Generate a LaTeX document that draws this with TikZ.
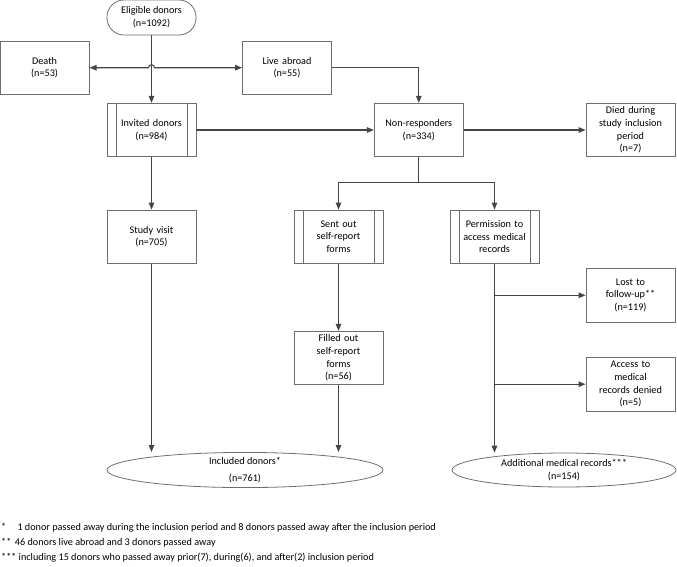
\documentclass[tikz,border=0pt]{standalone}
\usepackage{fontspec}
\setmainfont{Carlito}
\usetikzlibrary{arrows.meta,shapes.geometric,calc}
\definecolor{lineg}{HTML}{454545}
\definecolor{boxg}{HTML}{6E6E6E}

\begin{document}
\begin{tikzpicture}[x=1pt,y=1pt,
    font=\fontsize{10.2}{12.7}\selectfont,
    box/.style={draw=boxg,line width=0.8pt,minimum width=89pt,minimum height=53.5pt,
        inner sep=2pt,align=center,text width=85pt},
    proc/.style={box,path picture={
        \draw[boxg,line width=0.8pt] ([xshift=9pt]path picture bounding box.north west) -- ([xshift=9pt]path picture bounding box.south west);
        \draw[boxg,line width=0.8pt] ([xshift=-9pt]path picture bounding box.north east) -- ([xshift=-9pt]path picture bounding box.south east);}},
    term/.style={draw=boxg,line width=0.8pt,ellipse,inner sep=0pt,align=center},
    arr/.style={draw=lineg,line width=1.1pt,-{Triangle[length=7pt,width=5.5pt]}},
    conn/.style={draw=lineg,line width=1.1pt}]
    \useasboundingbox (0,0) rectangle (677,-566);

    % Top of the flow
    \node[draw=boxg,line width=0.8pt,rounded corners=17pt,minimum width=89pt,minimum height=35pt,
        align=center,inner sep=1pt] (elig) at (151.5,-17.5) {Eligible donors\\(n=1092)};
    \node[box] (death) at (44.6,-67.7) {Death\\(n=53)};
    \node[box] (live) at (287,-67.7) {Live abroad\\(n=55)};
    \node[proc] (inv) at (151.5,-130) {Invited donors\\(n=984)};
    \node[box] (nonr) at (418.8,-130) {Non-responders\\(n=334)};
    \node[box] (died) at (630.5,-130) {Died during\\study inclusion\\period\\(n=7)};

    % Second level
    \node[box] (study) at (151.5,-236.7) {Study visit\\(n=705)};
    \node[proc] (sent) at (338.5,-236.7) {Sent out\\self-report\\forms};
    \node[proc] (perm) at (494.5,-236.7) {Permission to\\access medical\\records};
    \node[box] (lost) at (630.5,-295.3) {Lost to\\follow-up**\\(n=119)};
    \node[box] (filled) at (338.5,-358) {Filled out\\self-report\\forms\\(n=56)};
    \node[box] (access) at (630.5,-384.2) {Access to\\medical\\records denied\\(n=5)};

    % Outcomes
    \node[term,minimum width=276pt,minimum height=34pt] (incl) at (245,-470) {Included donors*\\[3.5pt](n=761)};
    \node[term,minimum width=224pt,minimum height=34pt] (addl) at (564,-470) {Additional medical records***\\(n=154)};

    % Connectors
    \coordinate (hop) at (elig |- death);
    \draw[arr] (elig) -- (inv);
    \draw[arr,{Triangle[length=7pt,width=5.5pt]}-{Triangle[length=7pt,width=5.5pt]}] (death) -- ([xshift=-3pt]hop)
        arc[start angle=180,end angle=0,radius=3pt] -- (live);
    \draw[arr] (live.east) -| (nonr.north);
    \draw[arr] (inv) -- (nonr);
    \draw[arr] (nonr) -- (died);
    \draw[arr] (nonr.south) -- ++(0,-25.5) -| (sent.north);
    \draw[arr] (nonr.south) -- ++(0,-25.5) -| (perm.north);
    \draw[arr] (inv) -- (study);
    \draw[arr] (sent) -- (filled);
    \draw[arr] (study) -- (study |- incl.north);
    \draw[arr] (filled) -- (filled |- incl.north);
    \draw[arr] (perm) -- (perm |- addl.north);
    \draw[arr] (perm |- lost.west) -- (lost.west);
    \draw[arr] (perm |- access.west) -- (access.west);

    % Footnotes
    \node[anchor=north west,align=left,inner sep=0pt,font=\fontsize{10.2}{15}\selectfont] (notes) at (1,-523)
        {*\hspace{1.1em}1 donor passed away during the inclusion period and 8 donors passed away after the inclusion period\\
         **\hspace{0.35em}46 donors live abroad and 3 donors passed away\\
         *** including 15 donors who passed away prior(7), during(6), and after(2) inclusion period};
\end{tikzpicture}
\end{document}
